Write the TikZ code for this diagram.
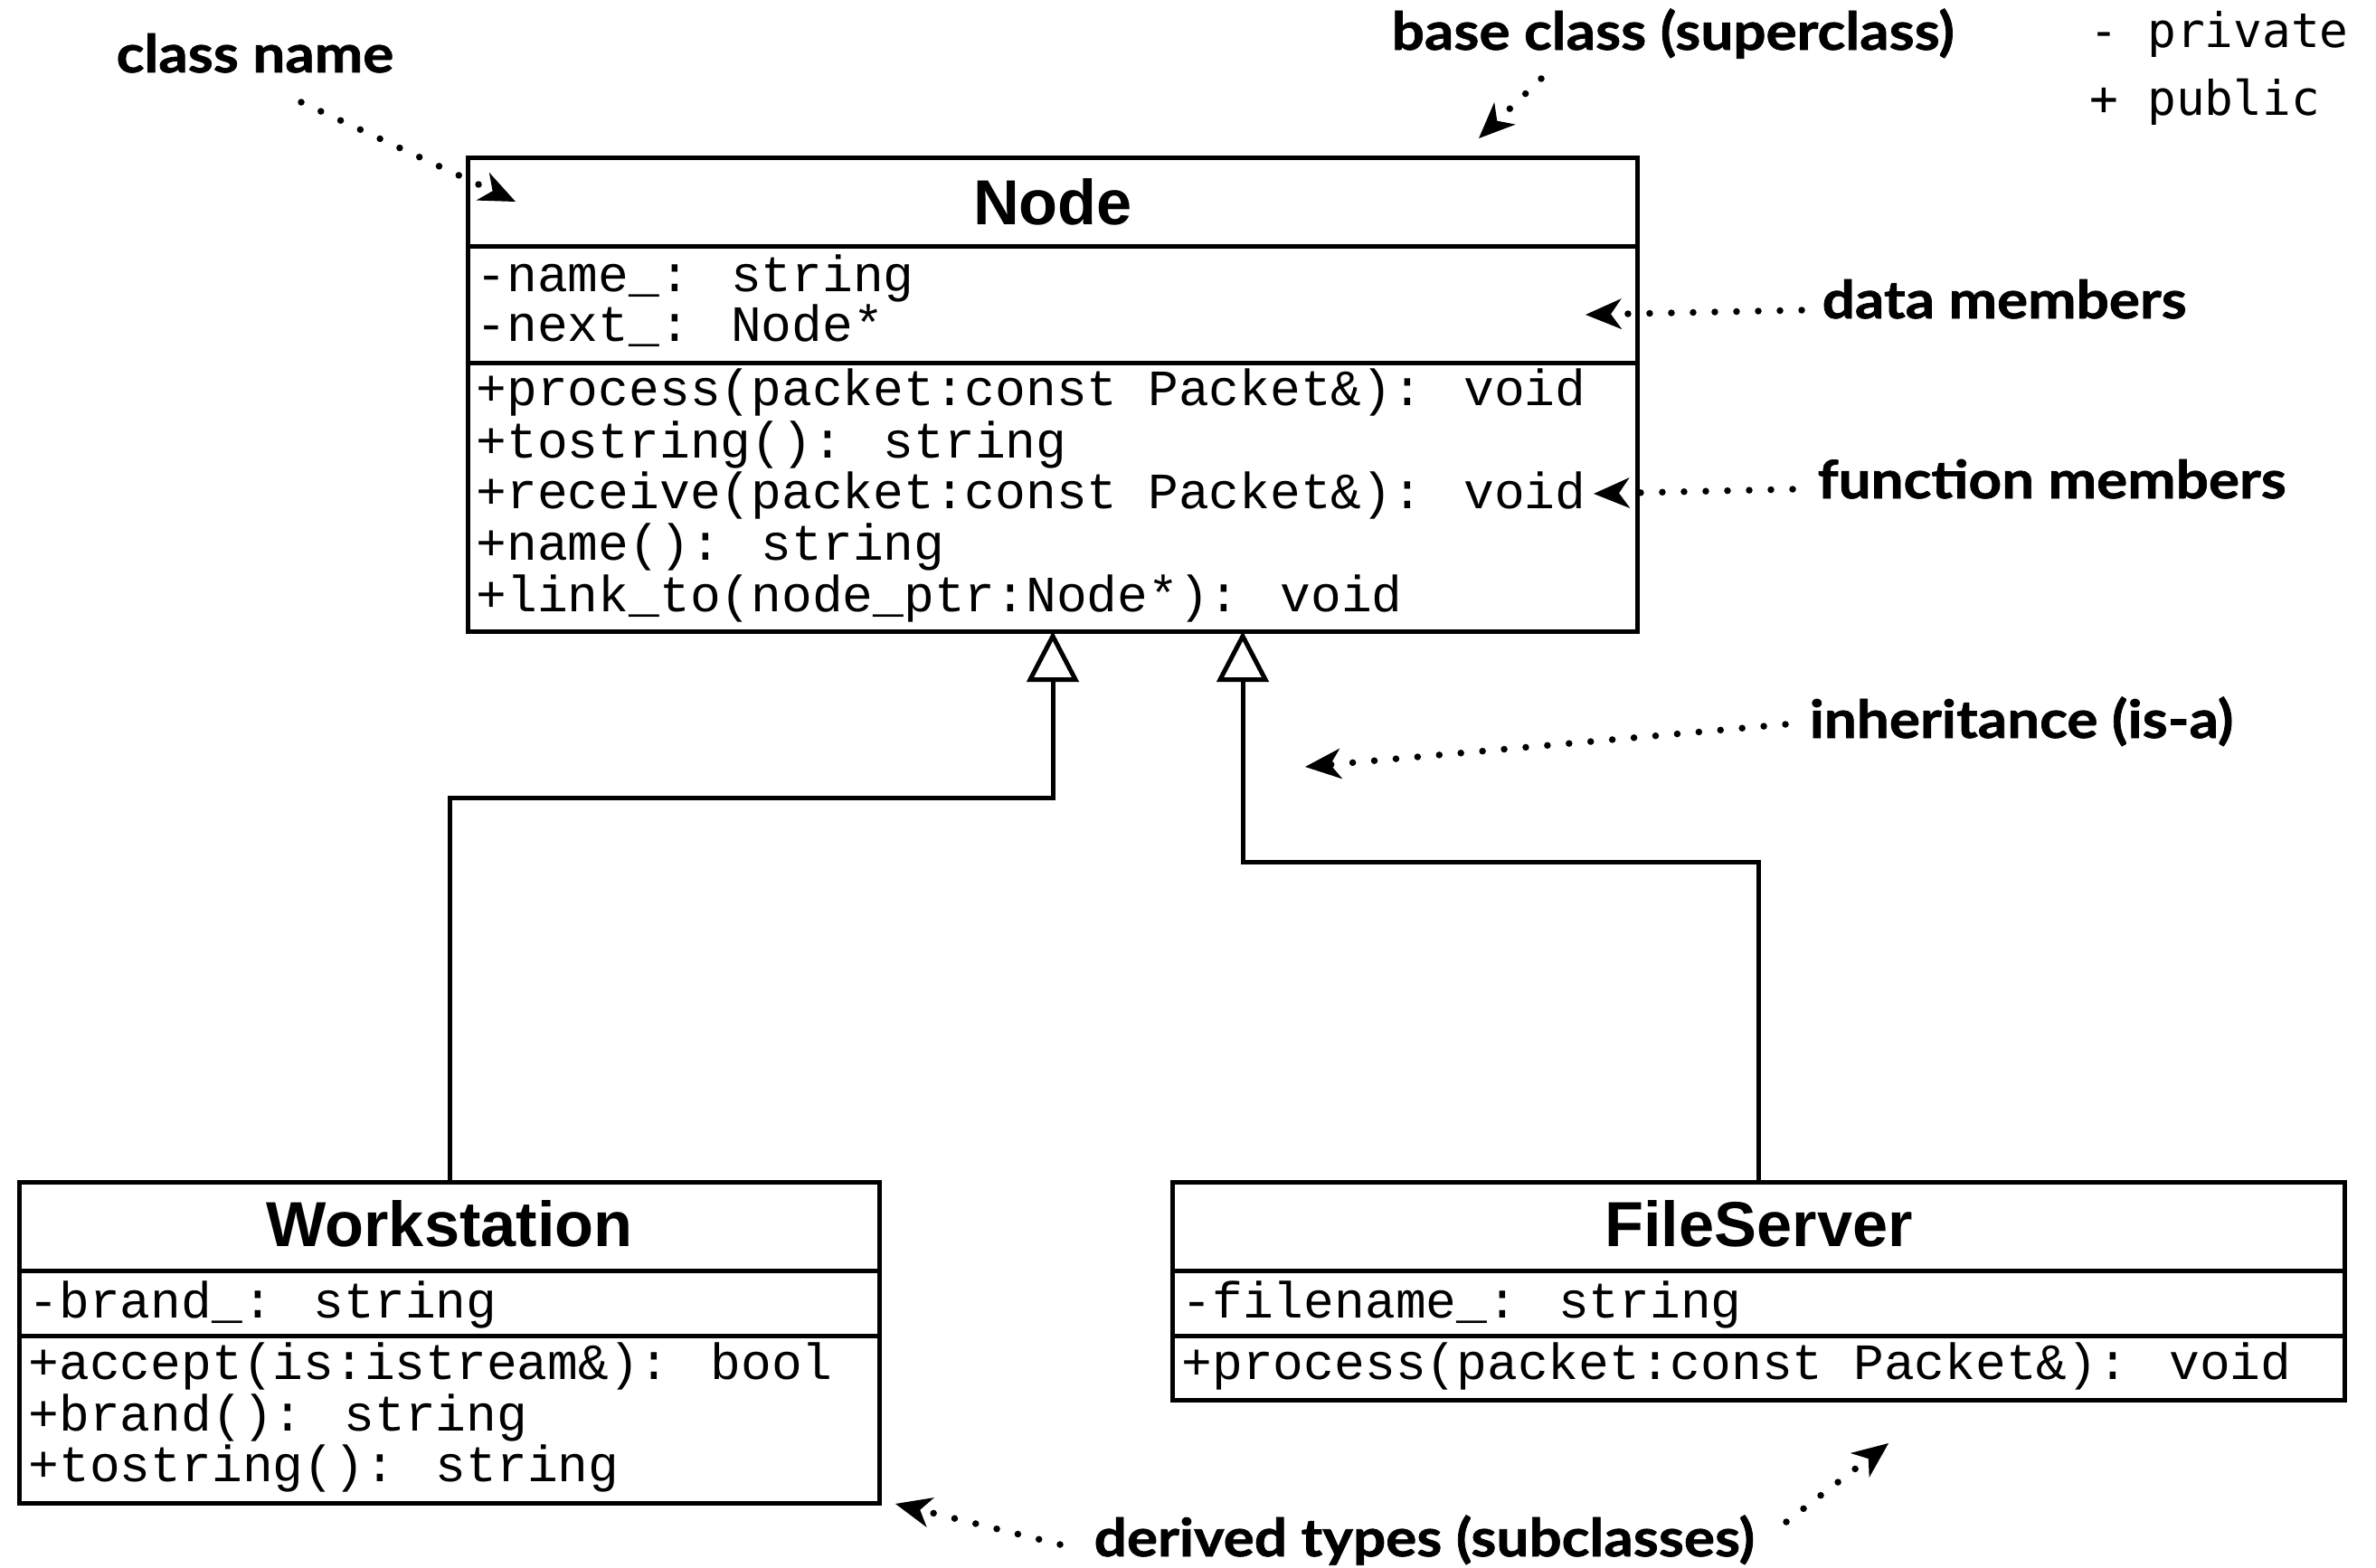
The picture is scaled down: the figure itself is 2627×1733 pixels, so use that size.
\documentclass[tikz,border=0pt]{standalone}
\usepackage{fontspec}
\setmainfont{Liberation Sans}
\newfontfamily\titlefont{Liberation Sans}
\newfontfamily\memfont{Liberation Mono}
\newfontfamily\annotfont{Lato}[FakeStretch=1.1, FakeBold=1.2]
\newfontfamily\legendfont{DejaVu Sans Mono}
\usetikzlibrary{arrows.meta}
\begin{document}
\begin{tikzpicture}[x=0.01cm, y=-0.01cm,
  classbox/.style={draw, line width=0.05cm, inner sep=0pt, fill=white},
  septr/.style={line width=0.05cm},
  ctitle/.style={anchor=base, inner sep=0pt, font=\titlefont\bfseries\fontsize{20}{24}\selectfont},
  mem/.style={anchor=base west, inner sep=0pt, font=\memfont\fontsize{16}{18}\selectfont},
  lbl/.style={anchor=base west, inner sep=0pt, font=\annotfont\bfseries\fontsize{16.5}{20}\selectfont},
  legend/.style={anchor=base west, inner sep=0pt, font=\legendfont\fontsize{15}{18}\selectfont},
  annot/.style={line width=0.075cm, dash pattern=on 0pt off 0.24cm, line cap=round,
    -{Stealth[length=0.40cm, width=0.34cm, inset=0.12cm, line width=0pt]}},
  inh/.style={line width=0.05cm,
    -{Triangle[open, length=0.56cm, width=0.57cm, line width=0.05cm]}}]

\fill[white] (0,0) rectangle (2627,1733);
\useasboundingbox (0,0) rectangle (2627,1733);

% ---- Node (base class)
\node[classbox, minimum width=12.92cm, minimum height=5.23cm] (nodeC) at (1164,436.5) {};
\draw[septr] (nodeC.west |- 0,272) -- (nodeC.east |- 0,272);
\draw[septr] (nodeC.west |- 0,401) -- (nodeC.east |- 0,401);
\node[ctitle] (nodeT) at (1164,248) {Node};
\node[mem] (nA1) at (526,322) {-name\_: string};
\node[mem] (nA2) at (526,377) {-next\_: Node*};
\node[mem] (nF1) at (526,448) {+process(packet:const Packet\&): void};
\node[mem] (nF2) at (526,506) {+tostring(): string};
\node[mem] (nF3) at (526,562) {+receive(packet:const Packet\&): void};
\node[mem] (nF4) at (526,619) {+name(): string};
\node[mem] (nF5) at (526,676) {+link\_to(node\_ptr:Node*): void};

% ---- Workstation
\node[classbox, minimum width=9.50cm, minimum height=3.54cm] (ws) at (497,1485) {};
\draw[septr] (ws.west |- 0,1405) -- (ws.east |- 0,1405);
\draw[septr] (ws.west |- 0,1477) -- (ws.east |- 0,1477);
\node[ctitle] (wsT) at (497,1378) {Workstation};
\node[mem] (wA1) at (31,1457) {-brand\_: string};
\node[mem] (wF1) at (31,1525) {+accept(is:istream\&): bool};
\node[mem] (wF2) at (31,1582) {+brand(): string};
\node[mem] (wF3) at (31,1638) {+tostring(): string};

% ---- FileServer
\node[classbox, minimum width=12.95cm, minimum height=2.40cm] (fs) at (1944.5,1428) {};
\draw[septr] (fs.west |- 0,1405) -- (fs.east |- 0,1405);
\draw[septr] (fs.west |- 0,1477) -- (fs.east |- 0,1477);
\node[ctitle] (fsT) at (1944.5,1378) {FileServer};
\node[mem] (fA1) at (1306,1457) {-filename\_: string};
\node[mem] (fF1) at (1306,1525) {+process(packet:const Packet\&): void};

% ---- inheritance connectors
\coordinate (apexL) at (1164,698);
\coordinate (apexR) at (1374,698);
\draw[inh] (ws.north) -- (ws.north |- 0,882) -| (apexL);
\draw[inh] (fs.north) -- (fs.north |- 0,953) -| (apexR);

% ---- annotation labels
\node[lbl] (lblClass) at (128,80) {class name};
\node[lbl] (lblBase) at (1538,55) {base class (superclass)};
\node[lbl] (lblData) at (2014,352) {data members};
\node[lbl] (lblFunc) at (2009,551) {function members};
\node[lbl] (lblInh) at (2000,816) {inheritance (is-a)};
\node[lbl] (lblDer) at (1209,1721) {derived types (subclasses)};
\node[legend] (legPriv) at (2310,52) {- private};
\node[legend] (legPub) at (2310,127) {+ public};

% ---- annotation arrows
\coordinate (aClassS) at (333,113);  \coordinate (aClassE) at (570,223);
\coordinate (aBaseS) at (1704,87);   \coordinate (aBaseE) at (1635,153);
\coordinate (aDataS) at (1992,343);  \coordinate (aDataE) at (1753,348);
\coordinate (aFuncS) at (1982,541);  \coordinate (aFuncE) at (1762,546);
\coordinate (aInhS) at (1974,801);   \coordinate (aInhE) at (1443,848);
\coordinate (aDerLS) at (1172,1708); \coordinate (aDerLE) at (990,1663);
\coordinate (aDerRS) at (1975,1683); \coordinate (aDerRE) at (2088,1596);
\draw[annot] (aClassS) -- (aClassE);
\draw[annot] (aBaseS) -- (aBaseE);
\draw[annot] (aDataS) -- (aDataE);
\draw[annot] (aFuncS) -- (aFuncE);
\draw[annot] (aInhS) -- (aInhE);
\draw[annot] (aDerLS) -- (aDerLE);
\draw[annot] (aDerRS) -- (aDerRE);
\end{tikzpicture}
\end{document}
